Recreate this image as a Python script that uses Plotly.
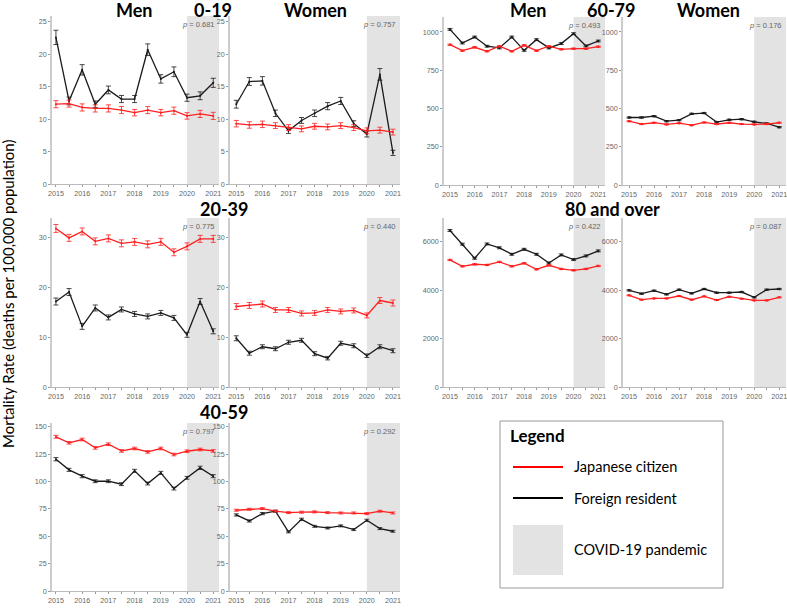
import plotly.graph_objects as go

W, H = 787, 608

years = [2015, 2015.5, 2016, 2016.5, 2017, 2017.5, 2018, 2018.5, 2019, 2019.5, 2020, 2020.5, 2021]
year_ticks = [2015, 2016, 2017, 2018, 2019, 2020, 2021]
year_labels = ["2015", "2016", "2017", "2018", "2019", "2020", "2021"]
half_ticks = [2015.5, 2016.5, 2017.5, 2018.5, 2019.5, 2020.5]

# ---- 0-19 ----
m019_jp = [12.3, 12.4, 11.8, 11.65, 11.65, 11.4, 11.0, 11.4, 11.0, 11.3, 10.5, 10.8, 10.5]
m019_fr = [22.6, 12.8, 17.6, 12.3, 14.5, 13.1, 13.1, 20.7, 16.2, 17.3, 13.3, 13.6, 15.6]
w019_jp = [9.3, 9.1, 9.2, 9.0, 8.7, 8.5, 8.9, 8.8, 9.0, 8.7, 8.2, 8.3, 8.0]
w019_fr = [12.3, 15.8, 15.9, 10.9, 8.2, 9.8, 10.9, 12.0, 12.8, 9.3, 7.7, 16.9, 4.8]
m019_jp_err = [0.55, 0.55, 0.55, 0.55, 0.55, 0.55, 0.5, 0.55, 0.5, 0.55, 0.5, 0.55, 0.55]
m019_fr_err = [1.1, 0.6, 0.8, 0.5, 0.6, 0.55, 0.55, 0.9, 0.65, 0.75, 0.55, 0.6, 0.7]
w019_jp_err = [0.5, 0.5, 0.5, 0.45, 0.45, 0.45, 0.45, 0.45, 0.45, 0.45, 0.45, 0.45, 0.45]
w019_fr_err = [0.6, 0.6, 0.65, 0.5, 0.4, 0.45, 0.5, 0.55, 0.55, 0.45, 0.45, 0.9, 0.4]
p019 = ["0.681", "0.757"]

# ---- 20-39 ----
m2039_jp = [31.9, 30.0, 31.3, 29.3, 29.9, 28.9, 29.2, 28.7, 29.2, 27.1, 28.3, 29.8, 29.8]
m2039_fr = [17.2, 19.1, 12.2, 15.9, 14.0, 15.6, 14.7, 14.2, 14.9, 13.9, 10.5, 17.2, 11.2]
w2039_jp = [16.2, 16.4, 16.7, 15.5, 15.5, 14.8, 14.9, 15.5, 15.2, 15.4, 14.4, 17.4, 16.9]
w2039_fr = [9.8, 6.8, 8.1, 7.7, 9.0, 9.4, 6.7, 5.8, 8.8, 8.3, 6.3, 8.1, 7.3]
m2039_jp_err = [0.8, 0.7, 0.7, 0.7, 0.7, 0.7, 0.7, 0.7, 0.7, 0.7, 0.7, 0.7, 0.7]
m2039_fr_err = [0.7, 0.7, 0.6, 0.6, 0.5, 0.5, 0.5, 0.5, 0.5, 0.5, 0.5, 0.6, 0.5]
w2039_jp_err = [0.6, 0.6, 0.6, 0.5, 0.5, 0.5, 0.5, 0.5, 0.5, 0.5, 0.5, 0.6, 0.6]
w2039_fr_err = [0.5, 0.4, 0.4, 0.4, 0.4, 0.4, 0.4, 0.35, 0.4, 0.4, 0.35, 0.4, 0.4]
p2039 = ["0.775", "0.440"]

# ---- 40-59 ----
m4059_jp = [140.9, 135.4, 138.4, 130.8, 134.1, 128.0, 130.2, 127.1, 130.2, 124.7, 127.7, 129.3, 128.0]
m4059_fr = [120.4, 110.7, 104.9, 100.3, 100.3, 97.6, 109.8, 98.2, 107.9, 93.6, 103.4, 112.5, 104.9]
w4059_jp = [73.8, 74.7, 75.3, 72.9, 71.6, 72.0, 72.3, 71.6, 71.3, 71.3, 70.7, 72.9, 71.3]
w4059_fr = [69.5, 64.0, 70.7, 72.9, 54.0, 65.5, 59.1, 57.6, 59.5, 56.1, 64.6, 57.0, 54.6]
m4059_jp_err = [1.3, 1.2, 1.2, 1.2, 1.2, 1.2, 1.2, 1.2, 1.2, 1.2, 1.2, 1.2, 1.2]
m4059_fr_err = [1.5, 1.4, 1.4, 1.3, 1.3, 1.3, 1.4, 1.3, 1.4, 1.3, 1.3, 1.5, 1.4]
w4059_jp_err = [0.9, 0.9, 0.9, 0.9, 0.9, 0.9, 0.9, 0.9, 0.9, 0.9, 0.9, 0.9, 0.9]
w4059_fr_err = [1.0, 1.0, 1.0, 1.0, 0.9, 1.0, 0.9, 0.9, 0.9, 0.9, 1.0, 0.9, 0.9]
p4059 = ["0.797", "0.292"]

# ---- 60-79 ----
m6079_jp = [917, 878, 900, 874, 907, 874, 913, 878, 907, 887, 891, 891, 904]
m6079_fr = [1017, 928, 967, 907, 896, 967, 880, 950, 896, 924, 989, 909, 941]
w6079_jp = [417, 398, 407, 396, 404, 391, 409, 398, 407, 398, 396, 398, 407]
w6079_fr = [441, 441, 450, 417, 424, 465, 470, 411, 426, 430, 413, 402, 378]
m6079_jp_err = [4, 4, 4, 4, 4, 4, 4, 4, 4, 4, 4, 4, 4]
m6079_fr_err = [6, 6, 6, 6, 6, 6, 6, 6, 6, 6, 6, 6, 6]
w6079_jp_err = [3, 3, 3, 3, 3, 3, 3, 3, 3, 3, 3, 3, 3]
w6079_fr_err = [4, 4, 4, 4, 4, 4, 4, 4, 4, 4, 4, 4, 4]
p6079 = ["0.493", "0.176"]

# ---- 80 and over ----
m80_jp = [5241, 4979, 5062, 5034, 5159, 4979, 5103, 4855, 5021, 4869, 4814, 4869, 4993]
m80_fr = [6455, 5890, 5310, 5900, 5740, 5475, 5680, 5475, 5117, 5448, 5255, 5407, 5614]
w80_jp = [3779, 3600, 3655, 3655, 3752, 3600, 3738, 3586, 3724, 3641, 3572, 3572, 3697]
w80_fr = [3986, 3848, 3972, 3821, 4014, 3862, 4041, 3890, 3890, 3917, 3697, 4014, 4041]
m80_jp_err = [25, 25, 25, 25, 25, 25, 25, 25, 25, 25, 25, 25, 25]
m80_fr_err = [40, 40, 40, 40, 40, 40, 40, 40, 40, 40, 40, 40, 40]
w80_jp_err = [15, 15, 15, 15, 15, 15, 15, 15, 15, 15, 15, 15, 15]
w80_fr_err = [25, 25, 25, 25, 25, 25, 25, 25, 25, 25, 25, 25, 25]
p80 = ["0.422", "0.087"]

group_titles = ["0-19", "20-39", "40-59", "60-79", "80 and over"]
sex_titles = ["Men", "Women"]
legend_labels = ["Japanese citizen", "Foreign resident", "COVID-19 pandemic"]
y_title = "Mortality Rate (deaths per 100,000 population)"

RED = "#ff1f1f"
BLACK = "#1a1a1a"
SHADE = "#e3e3e3"


def px(x):
    return x / W


def py(y):
    return 1 - y / H


XR_LM = [2014.85, 2021.22]
XR_O = [2014.76, 2021.27]

panels = [
    (m019_jp, m019_fr, m019_jp_err, m019_fr_err, p019[0], (52, 219, 16, 184), 25.9, 5, XR_LM),
    (w019_jp, w019_fr, w019_jp_err, w019_fr_err, p019[1], (230, 400, 16, 184), 25.9, 5, XR_O),
    (m2039_jp, m2039_fr, m2039_jp_err, m2039_fr_err, p2039[0], (52, 219, 218, 387), 34, 10, XR_LM),
    (w2039_jp, w2039_fr, w2039_jp_err, w2039_fr_err, p2039[1], (230, 400, 218, 387), 34, 10, XR_O),
    (m4059_jp, m4059_fr, m4059_jp_err, m4059_fr_err, p4059[0], (52, 219, 423, 591), 153.5, 25, XR_LM),
    (w4059_jp, w4059_fr, w4059_jp_err, w4059_fr_err, p4059[1], (230, 400, 423, 591), 153.5, 25, XR_O),
    (m6079_jp, m6079_fr, m6079_jp_err, m6079_fr_err, p6079[0], (444, 605, 17, 185), 1098, 250, XR_O),
    (w6079_jp, w6079_fr, w6079_jp_err, w6079_fr_err, p6079[1], (623, 786, 17, 185), 1098, 250, XR_O),
    (m80_jp, m80_fr, m80_jp_err, m80_fr_err, p80[0], (444, 605, 218, 387), 6970, 2000, XR_O),
    (w80_jp, w80_fr, w80_jp_err, w80_fr_err, p80[1], (623, 786, 218, 387), 6970, 2000, XR_O),
]

fig = go.Figure()
layout = dict(
    width=W, height=H, margin=dict(l=0, r=0, t=0, b=0, pad=0, autoexpand=False),
    paper_bgcolor="white", plot_bgcolor="white", showlegend=False,
    font=dict(family="Liberation Sans, Arial", color="#555"),
)
shapes = []
annotations = []

tick_font = dict(family="Liberation Sans, Arial", size=7.2, color="#666")

for i, (jp, fr, jpe, fre, pval, box, ymax, dtick, xr) in enumerate(panels):
    n = i + 1
    xs = "x" if n == 1 else f"x{n}"
    ys = "y" if n == 1 else f"y{n}"
    xa = "xaxis" if n == 1 else f"xaxis{n}"
    ya = "yaxis" if n == 1 else f"yaxis{n}"
    x0, x1, yt, yb = box
    small = ymax > 500
    for vals, errs, col in ((fr, fre, BLACK), (jp, jpe, RED)):
        fig.add_trace(go.Scatter(
            x=years, y=vals, xaxis=xs, yaxis=ys, mode="lines+markers",
            line=dict(color=col, width=1.3),
            marker=dict(color=col, size=2.5 if small else 2),
            error_y=dict(type="data", array=errs, visible=True, color=col,
                         thickness=0.8, width=2.5),
            hoverinfo="skip",
        ))
    layout[xa] = dict(
        domain=[px(x0), px(x1)], anchor=ys, range=xr, automargin=False,
        tickvals=year_ticks, ticktext=year_labels, ticks="outside", ticklen=2,
        tickcolor="#999", tickfont=tick_font, showgrid=False, zeroline=False,
        showline=True, linecolor="#bbb", linewidth=1, ticklabeloverflow="allow",
        minor=dict(tickvals=half_ticks, ticks="outside", ticklen=2,
                   tickcolor="#999", showgrid=False),
    )
    layout[ya] = dict(
        domain=[py(yb), py(yt)], anchor=xs, range=[0, ymax], dtick=dtick,
        automargin=False, ticklabeloverflow="allow",
        ticks="outside", ticklen=2, tickcolor="#999", tickfont=tick_font,
        showgrid=False, zeroline=False, showline=True, linecolor="#ccc",
        linewidth=1.5,
    )
    shapes.append(dict(type="rect", xref=xs, yref=f"{ys} domain", x0=2020, x1=xr[1],
                       y0=0, y1=1, fillcolor=SHADE, line=dict(width=0), layer="below"))
    annotations.append(dict(
        xref="paper", yref="paper", x=px(x1 - 2), y=py(yt + 2), xanchor="right",
        yanchor="top", showarrow=False, text=f"<i>p</i> = {pval}",
        font=dict(family="Liberation Sans, Arial", size=7.5, color="#666"),
    ))

title_font = dict(family="Lato", size=18, color="black", weight="bold")

for x, txt in ((134, sex_titles[0]), (213, group_titles[0]), (315, sex_titles[1]),
               (528, sex_titles[0]), (611, group_titles[3]), (708, sex_titles[1])):
    annotations.append(dict(xref="paper", yref="paper", x=px(x), y=py(9.5), text=txt,
                            showarrow=False, xanchor="center", yanchor="middle",
                            font=title_font))
for x, y, txt in ((224, 209, group_titles[1]), (224, 412, group_titles[2]),
                  (612, 209, group_titles[4])):
    annotations.append(dict(xref="paper", yref="paper", x=px(x), y=py(y), text=txt,
                            showarrow=False, xanchor="center", yanchor="middle",
                            font=title_font))

annotations.append(dict(xref="paper", yref="paper", x=px(8), y=py(294), text=y_title,
                        textangle=-90, showarrow=False, xanchor="center", yanchor="middle",
                        font=dict(family="Lato", size=15, color="black")))

shapes.append(dict(type="rect", xref="paper", yref="paper", x0=px(500), x1=px(723),
                   y0=py(588), y1=py(421), line=dict(color="#999", width=1),
                   fillcolor="white"))
shapes.append(dict(type="line", xref="paper", yref="paper", x0=px(513), x1=px(563),
                   y0=py(467), y1=py(467), line=dict(color="red", width=2)))
shapes.append(dict(type="line", xref="paper", yref="paper", x0=px(513), x1=px(563),
                   y0=py(498), y1=py(498), line=dict(color="black", width=2)))
shapes.append(dict(type="rect", xref="paper", yref="paper", x0=px(513), x1=px(563),
                   y0=py(575), y1=py(525), line=dict(width=0), fillcolor=SHADE))
annotations.append(dict(xref="paper", yref="paper", x=px(508), y=py(435), text="Legend",
                        showarrow=False, xanchor="left", yanchor="middle",
                        font=dict(family="Lato", size=17, color="black", weight="bold")))
for y, txt in ((466, legend_labels[0]), (498, legend_labels[1]), (549, legend_labels[2])):
    annotations.append(dict(xref="paper", yref="paper", x=px(572), y=py(y), text=txt,
                            showarrow=False, xanchor="left", yanchor="middle",
                            font=dict(family="Lato", size=14.5, color="black")))

layout["shapes"] = shapes
layout["annotations"] = annotations
fig.update_layout(**layout)
fig.write_html("out.html", config={"displayModeBar": False},
               post_script="document.body.style.margin='0';document.body.style.overflow='hidden';")
